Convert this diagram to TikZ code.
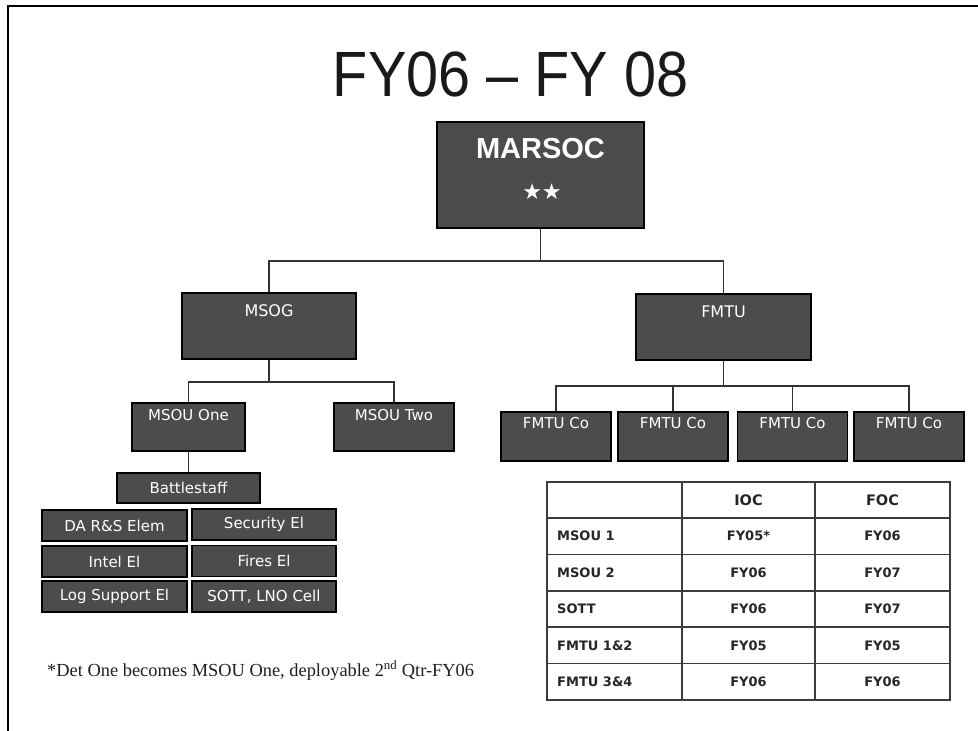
\documentclass[tikz,border=0pt]{standalone}
\usepackage{fontspec}
\setmainfont{Liberation Sans}
\newfontfamily\boxfont{DejaVu Sans}
\newfontfamily\tblfont{DejaVu Sans}
\newfontfamily\notefont{Liberation Serif}
\usetikzlibrary{calc}
\definecolor{boxgray}{RGB}{76,76,76}
\definecolor{linegray}{RGB}{50,50,50}
\definecolor{tblgray}{RGB}{60,60,60}
\begin{document}
\begin{tikzpicture}[x=1pt,y=-1pt,
  orgbox/.style={draw=black, line width=1.4pt, fill=boxgray, inner sep=0pt, text=white,
    font=\boxfont\fontsize{15}{18}\selectfont},
  boxlabel/.style={text=white, inner sep=0pt, anchor=base, font=\boxfont\fontsize{15}{18}\selectfont},
  biglabel/.style={text=white, inner sep=0pt, anchor=base, font=\boxfont\fontsize{16}{19}\selectfont},
  link/.style={draw=linegray, line width=1.6pt},
  tblcell/.style={inner sep=0pt, text=black!85, font=\tblfont\bfseries\fontsize{13}{15}\selectfont},
  tblhead/.style={inner sep=0pt, text=black!85, font=\tblfont\bfseries\fontsize{14.5}{17}\selectfont}
]
\useasboundingbox (0,0) rectangle (978,731);
\fill[white] (0,0) rectangle (978,731);
% frame
\draw[line width=2.8pt, black] (8,731) -- (8,6) -- (978,6);

% title
\node[inner sep=0pt, anchor=base, xscale=0.9, font=\fontsize{64}{70}\selectfont, text=black!90] (title) at (510.5,96) {FY06 -- FY 08};

% MARSOC
\node[orgbox, minimum width=207pt, minimum height=106pt] (marsoc) at (540.5,175) {};
\node[text=white, inner sep=0pt, anchor=base, font=\bfseries\fontsize{29}{32}\selectfont] (marsoct) at ($(marsoc.north)+(0,37)$) {MARSOC};
\node[text=white, inner sep=0pt, anchor=base, font=\boxfont\fontsize{22}{24}\selectfont] (stars) at ($(marsoc.north)+(1.5,78)$) {★★};

% second level
\node[orgbox, minimum width=174pt, minimum height=66pt] (msog) at (269,326) {};
\node[biglabel] (msogt) at ($(msog.north)+(0,24)$) {MSOG};
\node[orgbox, minimum width=175pt, minimum height=66pt] (fmtu) at (723.5,327) {};
\node[biglabel] (fmtut) at ($(fmtu.north)+(0,24)$) {FMTU};

% MSOUs
\node[orgbox, minimum width=113pt, minimum height=48pt] (msou1) at (188.5,427) {};
\node[boxlabel] (msou1t) at ($(msou1.north)+(0,18)$) {MSOU One};
\node[orgbox, minimum width=120pt, minimum height=48pt] (msou2) at (394,427) {};
\node[boxlabel] (msou2t) at ($(msou2.north)+(0,18)$) {MSOU Two};

% Battlestaff and elements
\node[orgbox, minimum width=143pt, minimum height=30pt] (bstaff) at (188.5,488) {Battlestaff};
\node[orgbox, minimum width=145pt, minimum height=31pt] (e11) at (114.5,525.5) {DA R\&S Elem};
\node[orgbox, minimum width=144pt, minimum height=31pt] (e12) at (264,524.5) {Security El};
\node[orgbox, minimum width=145pt, minimum height=31pt] (e21) at (114.5,561.5) {Intel El};
\node[orgbox, minimum width=144pt, minimum height=31pt] (e22) at (264,561) {Fires El};
\node[orgbox, minimum width=145pt, minimum height=31pt] (e31) at (114.5,596.5) {Log Support El};
\node[orgbox, minimum width=144pt, minimum height=31pt] (e32) at (264,596.5) {SOTT, LNO Cell};

% FMTU companies
\foreach \i/\x in {1/556,2/673,3/792.5,4/909}{
  \node[orgbox, minimum width=110pt, minimum height=49pt] (co\i) at (\x,436.5) {};
  \node[boxlabel] (co\i t) at ($(co\i.north)+(0,17)$) {FMTU Co};
}

% connectors
\coordinate (j1) at ($(marsoc.south)+(0,32)$);
\draw[link] (marsoc.south) -- (j1);
\draw[link] (msog.north) |- (j1) -| (fmtu.north);
\coordinate (j2) at ($(msog.south)+(0,22)$);
\draw[link] (msog.south) -- (j2);
\draw[link] (msou1.north) |- (j2) -| (msou2.north);
\draw[link] (msou1.south) -- (bstaff.north);
\coordinate (j3) at ($(fmtu.south)+(0,25)$);
\draw[link] (fmtu.south) -- (j3);
\draw[link] (co1.north) |- (j3) -| (co4.north);
\draw[link] (co2.north) -- (co2.north |- j3);
\draw[link] (co3.north) -- (co3.north |- j3);

% table
\def\rA{518}\def\rB{554.4}\def\rC{590.8}\def\rD{627.2}\def\rE{663.6}
\draw[draw=tblgray, line width=1.6pt] (547,\rA) -- (950,\rA) (547,\rB) -- (950,\rB) (547,\rC) -- (950,\rC) (547,\rD) -- (950,\rD) (547,\rE) -- (950,\rE);
\draw[draw=tblgray, line width=1.8pt] (682,482) -- (682,700) (815,482) -- (815,700);
\draw[draw=tblgray, line width=2.6pt] (547,482) rectangle (950,700);
\node[tblhead] (hioc) at (748.5,500) {IOC};
\node[tblhead] (hfoc) at (882.5,500) {FOC};
\foreach \y/\lab/\ioc/\foc [count=\k] in {536.2/MSOU 1/FY05*/FY06, 572.6/MSOU 2/FY06/FY07, 609/SOTT/FY06/FY07, 645.4/FMTU 1\&2/FY05/FY05, 681.8/FMTU 3\&4/FY06/FY06}{
  \node[tblcell, anchor=west] (lab\k) at (557,\y) {\lab};
  \node[tblcell] (ioc\k) at (748.5,\y) {\ioc};
  \node[tblcell] (foc\k) at (882.5,\y) {\foc};
}

% footnote
\node[inner sep=0pt, anchor=base west, text=black!88, font=\notefont\fontsize{18.4}{21}\selectfont] (note) at (47,676) {*Det One becomes MSOU One, deployable 2\textsuperscript{nd} Qtr-FY06};
\end{tikzpicture}
\end{document}
